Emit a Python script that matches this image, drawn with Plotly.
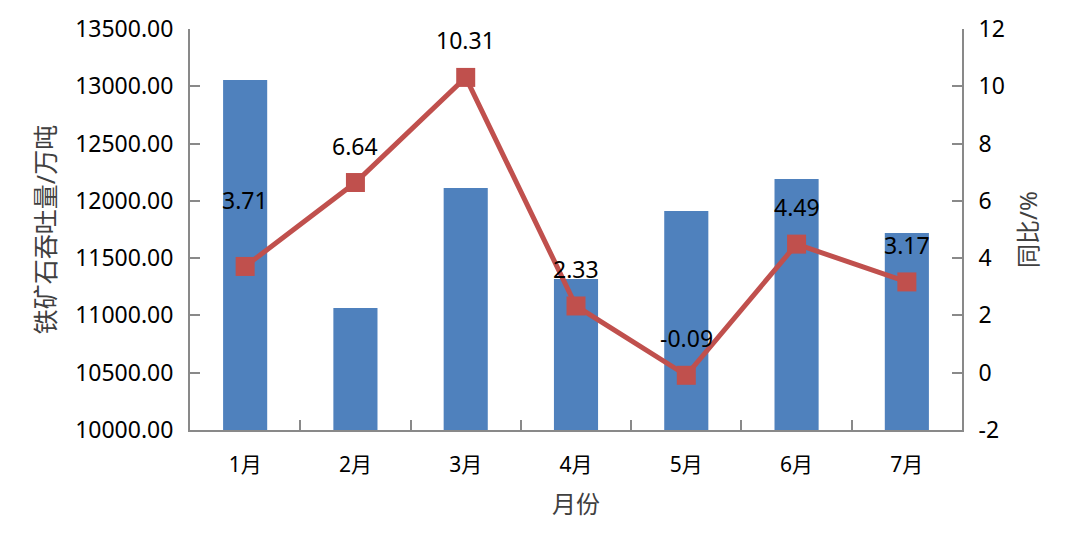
import plotly.graph_objects as go

months = ["1月", "2月", "3月", "4月", "5月", "6月", "7月"]
throughput = [13055, 11065, 12112, 11318, 11911, 12190, 11719]
yoy = [3.71, 6.64, 10.31, 2.33, -0.09, 4.49, 3.17]
yoy_ticks = [-2, 0, 2, 4, 6, 8, 10, 12]

font_num = "Noto Sans, Noto Sans CJK SC"
axis_col = "#898989"
title_col = "#404040"

fig = go.Figure()
fig.add_trace(go.Bar(x=months, y=throughput, marker_color="#4F81BD",
                     marker_line_width=0, name="吞吐量"))
fig.add_trace(go.Scatter(x=months, y=yoy, yaxis="y2", mode="lines+markers",
                         line=dict(color="#C0504D", width=5),
                         marker=dict(symbol="square", size=19, color="#C0504D"),
                         name="同比"))

# data labels above the markers
for i, (m, v) in enumerate(zip(months, yoy)):
    fig.add_annotation(x=m, y=v, yref="y2", text=f"{v:.2f}", showarrow=False,
                       yshift=66 if i == 0 else 37,
                       font=dict(size=23, color="black", family=font_num))

fig.update_layout(
    width=1080, height=552,
    margin=dict(l=182, r=126, t=21, b=130),
    plot_bgcolor="white", paper_bgcolor="white",
    showlegend=False, bargap=0.6,
    font=dict(family=font_num, size=20, color="black"),
    xaxis=dict(showline=True, linecolor=axis_col, linewidth=2,
               ticks="inside", tickson="boundaries", ticklen=10,
               tickcolor=axis_col, tickwidth=2, ticklabelstandoff=15,
               automargin=False,
               title=dict(text="月份", font=dict(size=24, color=title_col), standoff=19),
               tickfont=dict(size=21)),
    yaxis=dict(range=[10000, 13500], dtick=500, tickformat=".2f",
               showline=True, linecolor=axis_col, linewidth=2,
               ticks="inside", ticklen=10, tickcolor=axis_col, tickwidth=2,
               ticklabelstandoff=10, automargin=False,
               showgrid=False, zeroline=False,
               title=dict(text="铁矿石吞吐量/万吨", font=dict(size=25, color=title_col), standoff=12),
               tickfont=dict(size=23)),
    yaxis2=dict(range=[-2, 12], tickvals=yoy_ticks,
                ticktext=[str(t) for t in yoy_ticks],
                overlaying="y", side="right",
                showline=True, linecolor=axis_col, linewidth=2,
                ticks="inside", ticklen=10, tickcolor=axis_col, tickwidth=2,
                ticklabelstandoff=10, automargin=False,
                showgrid=False, zeroline=False,
                title=dict(text="同比/%", font=dict(size=24, color=title_col), standoff=16),
                tickfont=dict(size=23)),
)

fig.write_html("out.html")
